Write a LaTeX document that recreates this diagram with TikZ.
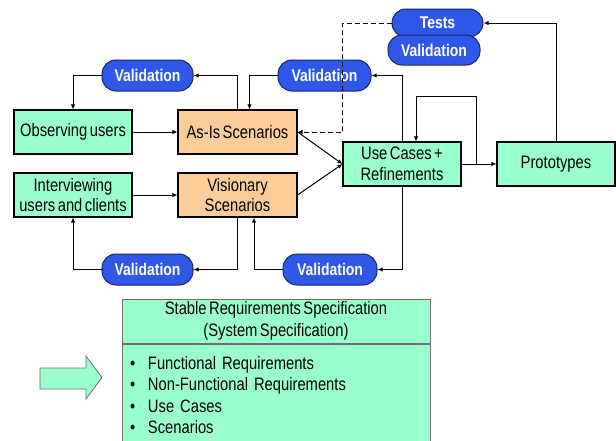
\documentclass[tikz,border=0pt]{standalone}
\usepackage{fontspec}
\setmainfont{Liberation Sans}[FakeStretch=0.82,WordSpace=0.6]
\usetikzlibrary{arrows.meta,positioning,calc}
\definecolor{boxgreen}{RGB}{153,255,204}
\definecolor{boxorange}{RGB}{252,204,153}
\definecolor{valblue}{RGB}{48,88,232}
\definecolor{valedge}{RGB}{22,36,110}
\definecolor{specedge}{RGB}{110,110,110}

\begin{document}
\begin{tikzpicture}[x=1pt,y=-1pt,>={Latex[length=5pt,width=4.5pt]},line width=1pt,
  actbox/.style={draw,line width=1.1pt,fill=boxgreen,minimum width=118pt,minimum height=44pt,align=center,inner sep=1pt,font=\fontsize{18}{20.5}\selectfont},
  scnbox/.style={actbox,fill=boxorange,minimum width=119pt},
  valpill/.style={draw=valedge,line width=1pt,fill=valblue,text=white,rounded corners=14pt,minimum width=91pt,minimum height=31pt,inner sep=1pt,font=\fontsize{17}{18}\selectfont\bfseries},
  specbox/.style={draw=specedge,fill=boxgreen,line width=1pt,minimum width=308pt}]
\clip (0,0) rectangle (616,440);

\node[actbox] (obs) at (73,132) {Observing users};
\node[scnbox] (asis) at (237.5,132) {As-Is Scenarios};
\node[actbox] (intv) at (73,195) {Interviewing\\users and clients};
\node[scnbox] (vis) at (237.5,195) {Visionary\\Scenarios};
\node[actbox] (uc) at (402,164) {Use Cases +\\Refinements};
\node[actbox] (proto) at (556,164) {Prototypes};

\node[valpill] (v1) at (147.5,75.5) {Validation};
\node[valpill,minimum width=93pt] (v2) at (324.5,75.5) {Validation};
\node[valpill,minimum height=28pt] (tst) at (437.5,23) {Tests};
\node[valpill,minimum width=92pt,minimum height=30pt] (v3) at (434,50) {Validation};
\node[valpill] (v4) at (147.5,269.5) {Validation};
\node[valpill,minimum width=94pt] (v5) at (330,269.5) {Validation};

\node[specbox,minimum height=44pt,align=center,inner sep=0pt,font=\fontsize{18}{22}\selectfont] (spechd) at (276,321) {Stable Requirements Specification\\(System Specification)};
\node[specbox,minimum height=102pt,text width=292pt,inner xsep=8pt,align=left,anchor=north,font=\fontsize{18}{21.3}\selectfont] (specbd) at (spechd.south) {\makebox[18pt][l]{\textbullet}Functional Requirements\\\makebox[18pt][l]{\textbullet}Non-Functional Requirements\\\makebox[18pt][l]{\textbullet}Use Cases\\\makebox[18pt][l]{\textbullet}Scenarios};

\draw[specedge,fill=boxgreen,line width=0.8pt] (40,368) -- (86,368) -- (86,356) -- (102,377.5) -- (86,399) -- (86,389) -- (40,389) -- cycle;

\draw [->] (obs) -- (asis);
\draw [->] (intv) -- (vis);
\draw [->] (asis.east) -- (uc.west);
\draw [->] (vis.east) -- (uc.west);
\draw [->] (uc) -- (proto);
\draw [->] (asis.north) |- (v1.east);
\draw [->] (v1.west) -| (obs.north);
\draw [->] (v2.west) -| ([xshift=12pt]asis.north);
\draw [->] (uc.north) |- (v2.east);
\draw [->] (vis.south) |- (v4.east);
\draw [->] (v4.west) -| (intv.south);
\draw [->] (uc.south) |- (v5.east);
\draw [->] (v5.west) -| ([xshift=16.5pt]vis.south);
\draw [->] (proto.north) |- (tst.east);
\draw [->,dash pattern=on 5pt off 3pt] (tst.west) -| (uc.west |- asis.east) -- (asis.east);
\coordinate (lp) at ($(uc.east)!0.44!(proto.west)$);
\draw [->] (lp) -- (lp |- 0,96) -| ([xshift=14pt]uc.north);
\end{tikzpicture}
\end{document}
